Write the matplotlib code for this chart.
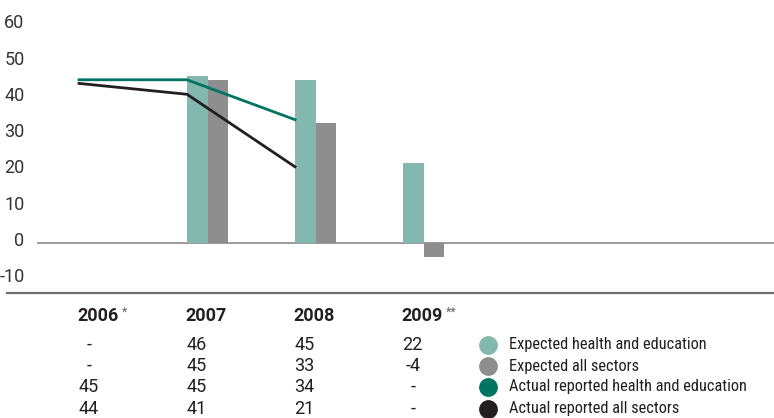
import matplotlib
matplotlib.use("Agg")
import matplotlib.pyplot as plt
import matplotlib.transforms as mtransforms
from matplotlib import font_manager

years = ["2006", "2007", "2008", "2009"]
year_marks = ["*", "", "", "**"]
exp_he = [None, 46, 45, 22]
exp_all = [None, 45, 33, -4]
act_he = [45, 45, 34, None]
act_all = [44, 41, 21, None]
series_names = ["Expected health and education", "Expected all sectors",
                "Actual reported health and education", "Actual reported all sectors"]
colors = ["#82b8ae", "#8f8e8f", "#007563", "#231f20"]
yticks = [-10, 0, 10, 20, 30, 40, 50, 60]

names = {f.name for f in font_manager.fontManager.ttflist}
fam = "Lato"
narrow = False
for cand in ["Roboto Condensed", "Liberation Sans Narrow", "Open Sans Condensed"]:
    if cand in names:
        fam = cand
        narrow = True
        break
plt.rcParams["font.family"] = ["Roboto", "DejaVu Sans"]
NUMFAM = ["Roboto", "DejaVu Sans"]
LEGFAM = [fam, "DejaVu Sans"]
FS = 13
LFS = 11.8 if narrow else 10.8

W, H = 774, 418
fig = plt.figure(figsize=(W / 100, H / 100), dpi=100)
ax_left, ax_right = 37 / W, 1.0
ax_bottom = (H - 293) / H
ax = fig.add_axes([ax_left, ax_bottom, ax_right - ax_left, 1 - ax_bottom])

unit = 108.0
x0_px = 79.0
ax.set_xlim((37 - x0_px) / unit, (W - x0_px) / unit)
ax.set_ylim(-13.8, 67)

xs = list(range(len(years)))
bw = 0.19
bx = [x for x, v in zip(xs, exp_he) if v is not None]
ax.bar(bx, [v for v in exp_he if v is not None], width=bw, align="edge", color=colors[0], zorder=2)
bx2 = [x + bw for x, v in zip(xs, exp_all) if v is not None]
ax.bar(bx2, [v for v in exp_all if v is not None], width=bw, align="edge", color=colors[1], zorder=2)

lx = [x for x, v in zip(xs, act_he) if v is not None]
ax.plot(lx, [v for v in act_he if v is not None], color=colors[2], lw=2.0, zorder=3, solid_joinstyle="miter")
lx2 = [x for x, v in zip(xs, act_all) if v is not None]
ax.plot(lx2, [v for v in act_all if v is not None], color=colors[3], lw=2.0, zorder=3, solid_joinstyle="miter")

ax.axhline(0, color="#8a8a8a", lw=1.2, zorder=1)

for s in ax.spines.values():
    s.set_visible(False)
ax.set_xticks([])
ax.set_yticks(yticks)
ax.set_yticklabels([str(t) for t in yticks], family=NUMFAM)
ax.tick_params(axis="y", length=0, pad=9, labelsize=FS, labelcolor="#333333")
offset = mtransforms.ScaledTranslation(0, 4 / 100, fig.dpi_scale_trans)
for lab in ax.get_yticklabels():
    lab.set_transform(lab.get_transform() + offset)
ax.patch.set_visible(False)

# bottom rule
fig.add_artist(plt.Line2D([7 / W, 1.0], [(H - 293) / H, (H - 293) / H],
                          transform=fig.transFigure, color="#6f6f6f", lw=1.6))

# table below
tr = mtransforms.blended_transform_factory(ax.transData, fig.transFigure)
def fy(py):
    return (H - py) / H

txtc = "#231f20"
for i, (y, m) in enumerate(zip(years, year_marks)):
    t = ax.text(i - 0.015, fy(316), y, transform=tr, ha="left", va="center", family=NUMFAM,
                fontsize=FS, fontweight="bold", color=txtc, clip_on=False)
    if m:
        ax.annotate(m, xy=(1, 0.7), xycoords=t, xytext=(2, 0), textcoords="offset points",
                    ha="left", va="center", fontsize=9, color="#666666", family=NUMFAM)

rows = [exp_he, exp_all, act_he, act_all]
row_y = [345, 366, 387, 409]
for r, ry in zip(rows, row_y):
    for i, v in enumerate(r):
        s = "-" if v is None else str(v)
        ax.text(i + 0.09, fy(ry), s, transform=tr, ha="center", va="center", family=NUMFAM,
                fontsize=FS, color=txtc, clip_on=False)

for k, (name, ry) in enumerate(zip(series_names, row_y)):
    fig.add_artist(plt.Line2D([488 / W], [fy(ry)], transform=fig.transFigure, marker="o",
                              markersize=12.5, color=colors[k], lw=0))
    fig.text(509 / W, fy(ry), name, ha="left", va="center", fontsize=LFS, color=txtc,
             family=LEGFAM)

fig.savefig("out.png", dpi=100)
